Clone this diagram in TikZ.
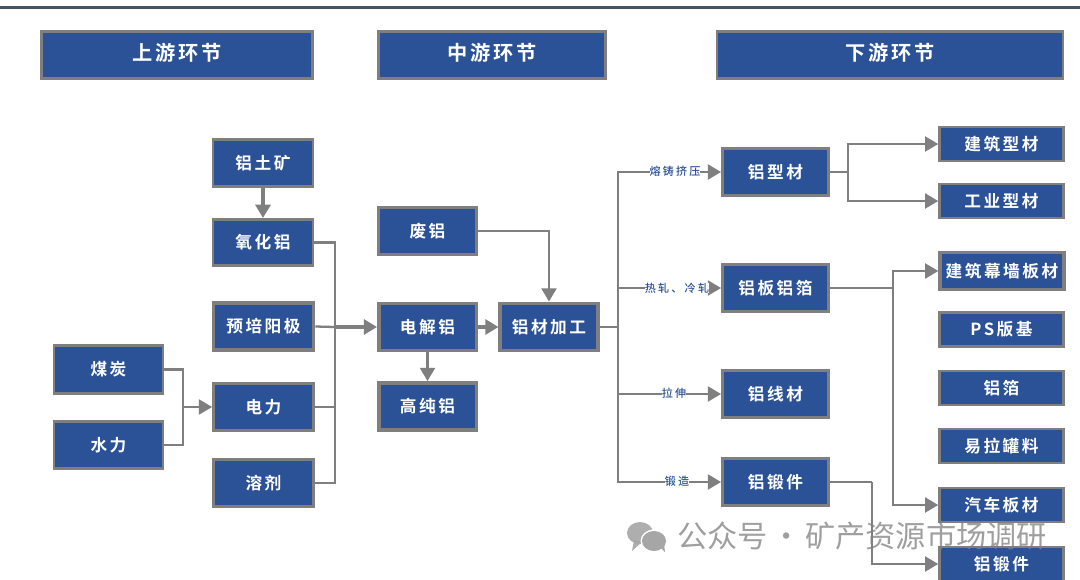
\documentclass[tikz,border=0pt]{standalone}
\usepackage{fontspec}
\setmainfont[BoldFont=Noto Sans CJK SC Bold]{Noto Sans CJK SC}
\newfontfamily\boxfont[LetterSpace=15]{Noto Sans CJK SC Bold}
\newfontfamily\tagfont[LetterSpace=20]{Noto Sans CJK SC Medium}
\newfontfamily\markfont{Noto Sans CJK SC}
\usetikzlibrary{arrows.meta, positioning, calc}
\definecolor{boxblue}{HTML}{2B5297}
\definecolor{linegray}{HTML}{7F7F7F}
\definecolor{topbar}{HTML}{44546A}

\begin{document}
\begin{tikzpicture}[x=0.02cm, y=-0.02cm, >={Triangle[length=7.5pt, width=8.5pt]},
    proc/.style={draw=linegray, line width=1.5pt, fill=boxblue, text=white, inner sep=0pt, font=\boxfont\fontsize{9.5pt}{11pt}\selectfont},
    head/.style={proc, text depth=3.2pt, font=\boxfont\fontsize{11.5pt}{13pt}\selectfont},
    wide/.style={proc, minimum width=57pt, minimum height=26.5pt},
    small/.style={proc, minimum width=55.5pt, minimum height=27pt},
    heavy/.style={line width=2pt},
    prod/.style={proc, minimum width=70.5pt, minimum height=19.5pt},
    tag/.style={fill=white, inner sep=0pt, text=boxblue, font=\tagfont\fontsize{6.3pt}{7pt}\selectfont},
    link/.style={draw=linegray, line width=1.3pt},
    boldlink/.style={link, line width=1.8pt}]
\clip (0, 0) rectangle (1080, 579);
\fill[white] (0, 0) rectangle (1080, 579);
\fill[topbar] (0, 5.5) rectangle (1080, 8.5);
% the three stages
\node[head, minimum width=154.5pt, minimum height=27pt] (up) at (177, 55) {上游环节};
\node[head, minimum width=129pt, minimum height=27pt] (mid) at (492, 55) {中游环节};
\node[head, minimum width=197pt, minimum height=27pt] (down) at (890, 55) {下游环节};
% upstream
\node[wide] (bauxite) at (263, 163) {铝土矿};
\node[wide] (alumina) at (263, 242.5) {氧化铝};
\node[wide, heavy] (anode) at (263.5, 326.5) {预培阳极};
\node[wide] (power) at (263.5, 407) {电力};
\node[wide] (flux) at (263.5, 483) {溶剂};
\node[small, minimum width=62pt] (coal) at (108.5, 369.5) {煤炭};
\node[small, minimum width=62pt] (hydro) at (108.5, 445) {水力};
% midstream
\node[small] (scrap) at (427.5, 231) {废铝};
\node[small, heavy] (electro) at (427.5, 327) {电解铝};
\node[small, heavy] (pure) at (427.5, 406.5) {高纯铝};
\node[small, heavy] (process) at (549, 327) {铝材加工};
% downstream, first column
\node[small, minimum width=60.5pt] (profile) at (775.5, 172) {铝型材};
\node[small, minimum width=60.5pt] (sheet) at (775.5, 288) {铝板铝箔};
\node[small, minimum width=60.5pt] (wire) at (775.5, 394) {铝线材};
\node[small, minimum width=60.5pt] (forge) at (775.5, 482) {铝锻件};
% downstream, second column
\node[prod] (build) at (1001.5, 144) {建筑型材};
\node[prod] (indus) at (1001.5, 201) {工业型材};
\node[prod, heavy, minimum height=21pt] (curtain) at (1002, 271) {建筑幕墙板材};
\node[prod] (ps) at (1001.5, 329.5) {PS版基};
\node[prod] (foil) at (1001.5, 388) {铝箔};
\node[prod] (can) at (1001.5, 446) {易拉罐料};
\node[prod] (auto) at (1001.5, 505) {汽车板材};
\node[prod] (forgeout) at (1001.5, 564) {铝锻件};
% junctions of the connectors
\coordinate (fuel) at (183, 407);
\coordinate (bus) at (335, 327);
\coordinate (trunk) at (618, 327);
\coordinate (fork) at (848, 172);
\coordinate (riser) at (893, 288);
\coordinate (drop) at (872, 482);
% upstream links
\draw[boldlink, ->] (bauxite) -- (alumina);
\draw[link] (coal.east) -| (fuel);
\draw[link] (hydro.east) -| (fuel);
\draw[link, ->] (fuel) -- (power.west);
\draw[link] (alumina.east) -| (bus);
\draw[link] (flux.east) -| (bus);
\draw[link] (power.east) -- (power.east -| bus);
\draw[link] (anode.east) -- (bus);
\draw[boldlink, ->] (bus) -- (electro.west);
% midstream links
\draw[boldlink, ->] (electro.east) -- (process.west);
\draw[link, ->] (electro) -- (pure);
\draw[link, ->] (scrap.east) -| (process.north);
\draw[link] (process.east) -- (trunk);
% the four routes out of processing
\draw[link, ->] (trunk) |- (profile.west);
\draw[link, ->] (trunk) |- (sheet.west);
\draw[link, ->] (trunk) |- (wire.west);
\draw[link, ->] (trunk) |- (forge.west);
\node[tag] (tagcast) at (675, 171) {熔铸挤压};
\node[tag] (tagroll) at (677, 288) {热轧、冷轧};
\node[tag] (tagdraw) at (674, 393.5) {拉伸};
\node[tag] (tagforge) at (677, 481) {锻造};
% products
\draw[link] (profile.east) -- (fork);
\draw[link, ->] (fork) |- (build.west);
\draw[link, ->] (fork) |- (indus.west);
\draw[link] (sheet.east) -- (riser);
\draw[link, ->] (riser) |- (curtain.west);
\draw[link, ->] (riser) |- (auto.west);
\draw[link] (forge.east) -- (drop);
\draw[link, ->] (drop) |- (forgeout.west);
% account mark lying over the picture
\begin{scope}[fill=black!35, opacity=0.9]
\fill (640, 533) ellipse (13 and 11);
\fill (642, 542) -- (632, 551) -- (634, 540) -- cycle;
\end{scope}
\fill[white] (654, 541) ellipse (13.5 and 11.5);
\fill[black!35] (654, 541) ellipse (12 and 10);
\fill[black!35] (660, 547) -- (665, 552) -- (664, 544) -- cycle;
\node[text=black!50, text opacity=0.75, anchor=west, inner sep=0pt, font=\markfont\fontsize{17.2pt}{19pt}\selectfont] (mark) at (677, 536) {公众号\hspace{2pt}·\hspace{2pt}矿产资源市场调研};
\end{tikzpicture}
\end{document}
